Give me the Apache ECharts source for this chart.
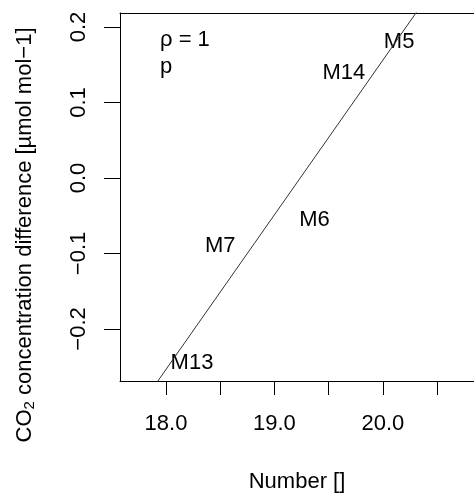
<!DOCTYPE html>
<html><head><meta charset="utf-8">
<script src="https://cdn.jsdelivr.net/npm/echarts@6/dist/echarts.min.js"></script>
<style>html,body{margin:0;padding:0;background:#fff}#c{width:474px;height:494px}</style>
</head><body><div id="c"></div>
<script>
const labels = ['M5', 'M14', 'M6', 'M7', 'M13'];
const xValues = [20.15, 19.64, 19.37, 18.50, 18.24];
const yValues = [0.183, 0.142, -0.053, -0.087, -0.242];
const fitX = [17.50, 20.85];
const fitY = [-0.356, 0.330];
const xTicks = [18.0, 18.5, 19.0, 19.5, 20.0, 20.5];
const xTickLabels = [18.0, 19.0, 20.0];
const yTicks = [-0.2, -0.1, 0.0, 0.1, 0.2];
const annotations = ['ρ = 1', 'p'];

const FONT = 'Liberation Sans, Arial, sans-serif';
const chart = echarts.init(document.getElementById('c'), null, {renderer: 'canvas'});
const fmtY = v => (v < 0 ? '\u2212' : '') + Math.abs(v).toFixed(1);
chart.setOption({
  animation: false,
  backgroundColor: '#fff',
  grid: {left: 120, top: 13, bottom: 113, right: 0, containLabel: false, outerBoundsMode: 'none'},
  xAxis: [{
    type: 'value', min: 17.576, max: 20.841, position: 'bottom',
    axisLine: {show: true, onZero: false, lineStyle: {color: '#000', width: 1}},
    axisTick: {show: true, length: 14, customValues: xTicks, lineStyle: {color: '#000'}},
    axisLabel: {show: true, customValues: xTickLabels, margin: 32, color: '#000', fontSize: 22, fontFamily: FONT, formatter: v => v.toFixed(1)},
    splitLine: {show: false},
    name: 'Number []', nameLocation: 'middle', nameGap: 90,
    nameTextStyle: {color: '#000', fontSize: 22, fontFamily: FONT}
  }, {
    type: 'value', min: 17.576, max: 20.841, position: 'top',
    axisLine: {show: true, onZero: false, lineStyle: {color: '#000', width: 1}},
    axisTick: {show: false}, axisLabel: {show: false}, splitLine: {show: false}
  }],
  yAxis: {
    type: 'value', min: -0.2689, max: 0.2185,
    axisLine: {show: true, onZero: false, lineStyle: {color: '#000', width: 1}},
    axisTick: {show: true, length: 16, customValues: yTicks, lineStyle: {color: '#000'}},
    axisLabel: {show: true, customValues: yTicks, rotate: 90, margin: 30, color: '#000', fontSize: 22, fontFamily: FONT, formatter: fmtY},
    splitLine: {show: false},
    name: '{a|CO}{s|2}{a| concentration difference [µmol mol\u22121]}',
    nameLocation: 'middle', nameRotate: 90, nameGap: 83,
    nameTextStyle: {color: '#000', fontSize: 22, fontFamily: FONT, padding: [0, 76, 0, 0],
      rich: {a: {fontSize: 22, fontFamily: FONT, color: '#000'}, s: {fontSize: 15, fontFamily: FONT, color: '#000', verticalAlign: 'bottom', padding: [10, 0, 0, 0]}}}
  },
  series: [{
    type: 'line', xAxisIndex: 0, clip: true, symbol: 'none',
    data: fitX.map((x, i) => [x, fitY[i]]),
    lineStyle: {color: '#333', width: 1}
  }, {
    type: 'scatter', xAxisIndex: 0, symbolSize: 1, itemStyle: {color: 'rgba(0,0,0,0)', opacity: 1},
    data: xValues.map((x, i) => ({name: labels[i], value: [x, yValues[i]]})),
    label: {show: true, position: 'inside', offset: [0, 2], formatter: p => p.name, color: '#000', opacity: 1, fontSize: 22, fontFamily: FONT}
  }],
  graphic: [
    {type: 'text', left: 160, top: 29, style: {text: annotations[0], fontSize: 22, fontFamily: FONT, fill: '#000'}},
    {type: 'text', left: 160, top: 56, style: {text: annotations[1], fontSize: 22, fontFamily: FONT, fill: '#000'}}
  ]
});
</script></body></html>
